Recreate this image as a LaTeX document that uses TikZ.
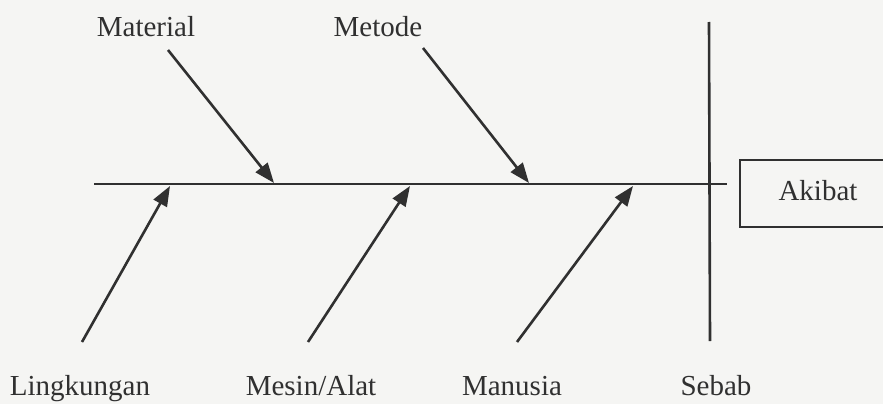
\documentclass[tikz,border=0pt]{standalone}
\usepackage{fontspec}
\setmainfont{Liberation Serif}
\usetikzlibrary{arrows.meta}
\definecolor{ink}{HTML}{303030}
\definecolor{paper}{HTML}{F5F5F3}
\tikzset{
  bone/.style={draw=ink, line width=2.6pt},
  rib/.style={draw=ink, line width=2.6pt, -{Triangle[length=20pt,width=15pt]}},
  lbl/.style={text=ink, font=\fontsize{29}{32}\selectfont, inner sep=0pt},
}
\begin{document}
\begin{tikzpicture}[x=1pt,y=-1pt]
\fill[paper] (0,0) rectangle (883,404);
\useasboundingbox (0,0) rectangle (883,404);
% spine and vertical line
\coordinate (sl) at (94,184);
\coordinate (sr) at (727,184);
\draw[bone] (sl) -- (sr);
\coordinate (vt) at (709,22);
\coordinate (vb) at (710,341);
\draw[bone] (vt) -- (vb);
% effect box
\node[draw=ink, line width=2.4pt, minimum width=150pt, minimum height=67pt, inner sep=0pt, anchor=north west] (box) at (739,159) {};
\node[lbl] (akibat) at (818,191) {Akibat};
% top ribs
\coordinate (m1) at (168,50);  \coordinate (m2) at (274,183);
\coordinate (d1) at (423,48);  \coordinate (d2) at (529,183);
\draw[rib] (m1) -- (m2);
\draw[rib] (d1) -- (d2);
% bottom ribs
\coordinate (l1) at (82,342);  \coordinate (l2) at (170,186);
\coordinate (s1) at (308,342); \coordinate (s2) at (410,186);
\coordinate (u1) at (517,342); \coordinate (u2) at (633,186);
\draw[rib] (l1) -- (l2);
\draw[rib] (s1) -- (s2);
\draw[rib] (u1) -- (u2);
% labels
\node[lbl] (material) at (146,27) {Material};
\node[lbl] (metode) at (378,27) {Metode};
\node[lbl, anchor=base] (lingkungan) at (80,395) {Lingkungan};
\node[lbl, anchor=base] (mesin) at (311,395) {Mesin/Alat};
\node[lbl, anchor=base] (manusia) at (512,395) {Manusia};
\node[lbl, anchor=base] (sebab) at (716,395) {Sebab};
\end{tikzpicture}
\end{document}
